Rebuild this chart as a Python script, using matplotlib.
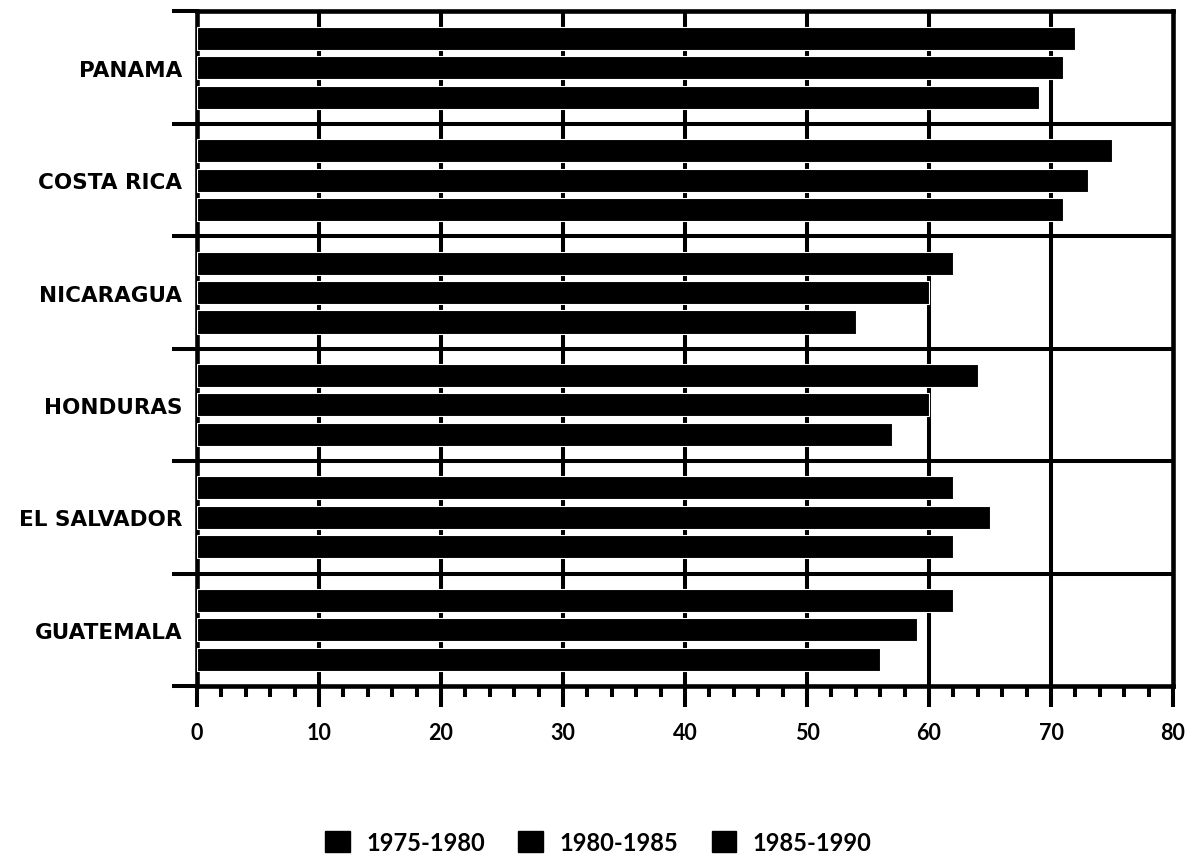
import matplotlib
matplotlib.use("Agg")
import matplotlib.pyplot as plt
import numpy as np
from matplotlib.patches import Patch

countries = ["GUATEMALA", "EL SALVADOR", "HONDURAS", "NICARAGUA", "COSTA RICA", "PANAMA"]
series_names = ["1975-1980", "1980-1985", "1985-1990"]
v_1975_1980 = [56, 62, 57, 54, 71, 69]
v_1980_1985 = [59, 65, 60, 60, 73, 71]
v_1985_1990 = [62, 62, 64, 62, 75, 72]
x_ticks = [0, 10, 20, 30, 40, 50, 60, 70, 80]

fig = plt.figure(figsize=(11.97, 8.62), dpi=100)
ax = fig.add_axes([0.1646, 0.2030, 0.8154, 0.7825])

lw = 2.9
y = np.arange(len(countries))
pitch = 0.262
h = 0.205
for k, vals in enumerate([v_1975_1980, v_1980_1985, v_1985_1990]):
    ax.barh(y + (k - 1) * pitch, vals, height=h, color="black",
            edgecolor="white", linewidth=0.8, zorder=3)

ax.set_xlim(0, 80)
ax.set_ylim(-0.5, len(countries) - 0.5)

for xv in x_ticks[1:-1]:
    ax.axvline(xv, color="black", lw=lw, zorder=1)
for yb in np.arange(0.5, len(countries) - 0.5, 1.0):
    ax.axhline(yb, color="black", lw=lw, zorder=1)

for s in ax.spines.values():
    s.set_linewidth(lw + 0.4)
    s.set_color("black")

# y: boundaries as major ticks, labels as minor ticks at centres
ax.set_yticks(np.arange(-0.5, len(countries), 1.0))
ax.set_yticklabels([])
ax.set_yticks(y, minor=True)
ax.set_yticklabels(countries, minor=True, fontfamily="DejaVu Sans",
                   fontweight="bold", fontsize=15.5)
ax.tick_params(axis="y", which="major", length=18, width=lw, direction="out")
ax.tick_params(axis="y", which="minor", length=0, pad=10.5)

ax.set_xticks(x_ticks)
ax.set_xticklabels([str(t) for t in x_ticks], fontfamily="Lato",
                   fontweight="bold", fontsize=15.5)
ax.set_xticks(np.arange(0, 81, 2), minor=True)
ax.tick_params(axis="x", which="major", length=15, width=lw, direction="out", pad=11)
ax.tick_params(axis="x", which="minor", length=8, width=lw, direction="out")

handles = [Patch(facecolor="black", edgecolor="black") for _ in series_names]
fig.legend(handles, series_names, loc="center", bbox_to_anchor=(0.5, 0.022),
           ncol=3, frameon=False, handlelength=1.05, handleheight=0.95,
           handletextpad=0.7, columnspacing=1.4,
           prop={"family": "Lato", "weight": "bold", "size": 17})

fig.savefig("out.png", dpi=100, facecolor="white")
